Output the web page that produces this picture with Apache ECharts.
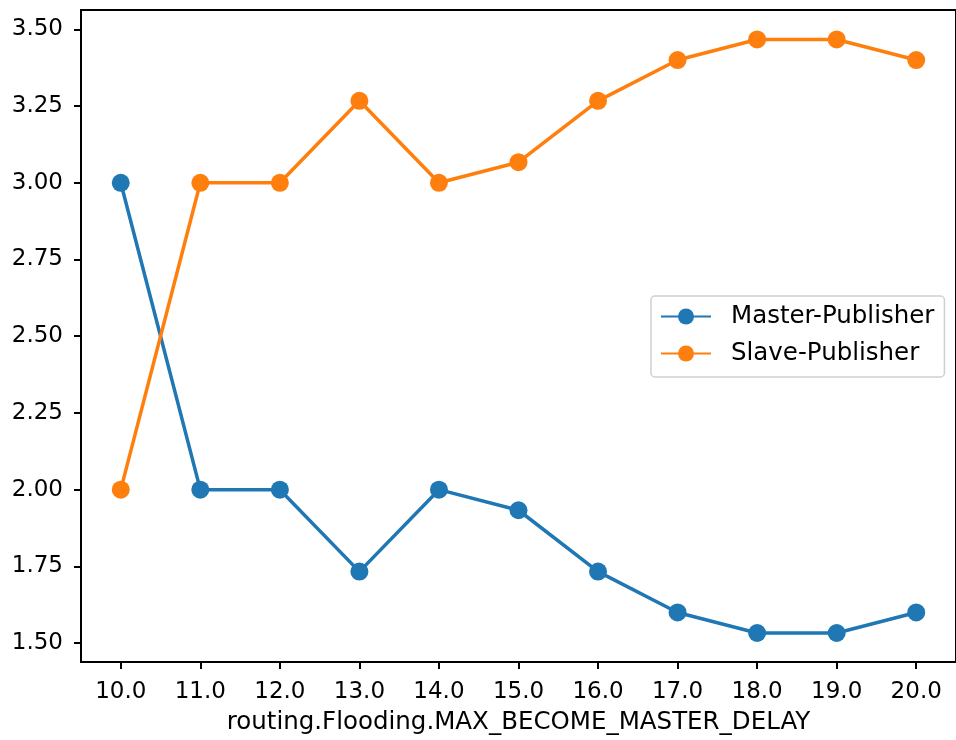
<!DOCTYPE html>
<html>
<head>
<meta charset="utf-8">
<script src="https://cdn.jsdelivr.net/npm/echarts@6/dist/echarts.min.js"></script>
<style>
  html, body { margin: 0; padding: 0; background: #fff; }
  #main { width: 956px; height: 740px; }
</style>
</head>
<body>
<div id="main"></div>
<script>
// x categories (MAX_BECOME_MASTER_DELAY)
var delays = ['10.0', '11.0', '12.0', '13.0', '14.0', '15.0', '16.0', '17.0', '18.0', '19.0', '20.0'];
// series values
var masterPublisher = [3.0, 2.0, 2.0, 1.733, 2.0, 1.933, 1.733, 1.6, 1.533, 1.533, 1.6];
var slavePublisher = [2.0, 3.0, 3.0, 3.267, 3.0, 3.067, 3.267, 3.4, 3.467, 3.467, 3.4];
// y tick labels
var yTicks = [1.5, 1.75, 2.0, 2.25, 2.5, 2.75, 3.0, 3.25, 3.5];

var chart = echarts.init(document.getElementById('main'));
var font = 'DejaVu Sans';

var option = {
  animation: false,
  textStyle: { fontFamily: font },
  grid: {
    left: 81, right: -2, top: 10, bottom: 78,
    show: true, borderColor: '#000', borderWidth: 2, backgroundColor: 'transparent'
  },
  legend: {
    orient: 'vertical',
    left: 651, top: 296,
    padding: [8, 10, 11, 9],
    itemWidth: 50, itemHeight: 20, itemGap: 12,
    backgroundColor: '#fff',
    borderColor: '#d0d0d0', borderWidth: 1.5, borderRadius: 4,
    textStyle: { fontFamily: font, fontSize: 24.5, color: '#000', padding: [0, 0, 0, 15], lineHeight: 24 },
    data: ['Master-Publisher', 'Slave-Publisher']
  },
  xAxis: {
    type: 'category',
    data: delays,
    boundaryGap: true,
    name: 'routing.Flooding.MAX_BECOME_MASTER_DELAY',
    nameLocation: 'middle',
    nameGap: 48,
    nameTextStyle: { fontFamily: font, fontSize: 24.5, color: '#000' },
    axisLine: { show: false },
    axisTick: { show: true, alignWithLabel: true, length: 7, lineStyle: { color: '#000', width: 2 } },
    axisLabel: { fontFamily: font, fontSize: 23, color: '#000', margin: 19 },
    splitLine: { show: false }
  },
  yAxis: {
    type: 'value',
    min: 1.4385,
    max: 3.563,
    axisLine: { show: false },
    axisTick: { show: true, length: 7, customValues: yTicks, lineStyle: { color: '#000', width: 2 } },
    axisLabel: {
      fontFamily: font, fontSize: 23, color: '#000', margin: 18,
      customValues: yTicks,
      formatter: function (v) { return v.toFixed(2); }
    },
    splitLine: { show: false }
  },
  series: [
    {
      name: 'Master-Publisher',
      type: 'line',
      data: masterPublisher,
      color: '#1f77b4',
      symbol: 'circle', symbolSize: 18,
      lineStyle: { width: 3.5, color: '#1f77b4' },
      itemStyle: { color: '#1f77b4' }
    },
    {
      name: 'Slave-Publisher',
      type: 'line',
      data: slavePublisher,
      color: '#ff7f0e',
      symbol: 'circle', symbolSize: 18,
      lineStyle: { width: 3.5, color: '#ff7f0e' },
      itemStyle: { color: '#ff7f0e' }
    }
  ]
};

chart.setOption(option);
</script>
</body>
</html>
